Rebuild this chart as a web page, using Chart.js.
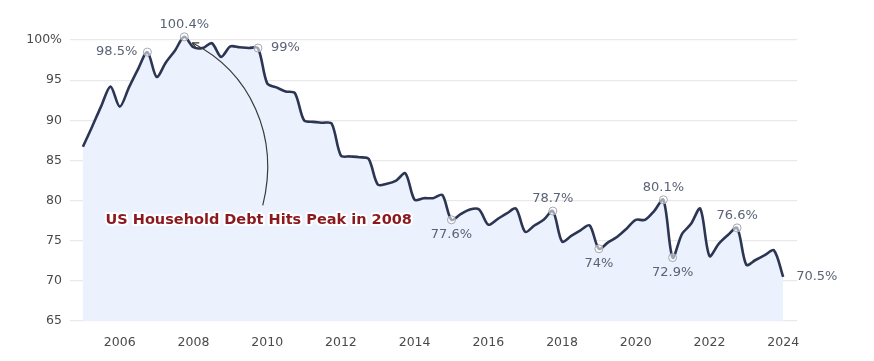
<!DOCTYPE html>
<html><head><meta charset="utf-8">
<script src="https://cdn.jsdelivr.net/npm/chart.js@4.4.1/dist/chart.umd.min.js"></script>
<style>html,body{margin:0;padding:0;background:#fff}#wrap{width:874px;height:361px;position:relative}</style>
</head><body><div id="wrap"><canvas id="c"></canvas></div>
<script>
// ---- data ----
const years = [
 2005,2005.25,2005.5,2005.75, 2006,2006.25,2006.5,2006.75, 2007,2007.25,2007.5,2007.75,
 2008,2008.25,2008.5,2008.75, 2009,2009.25,2009.5,2009.75, 2010,2010.25,2010.5,2010.75,
 2011,2011.25,2011.5,2011.75, 2012,2012.25,2012.5,2012.75, 2013,2013.25,2013.5,2013.75,
 2014,2014.25,2014.5,2014.75, 2015,2015.25,2015.5,2015.75, 2016,2016.25,2016.5,2016.75,
 2017,2017.25,2017.5,2017.75, 2018,2018.25,2018.5,2018.75, 2019,2019.25,2019.5,2019.75,
 2020,2020.25,2020.5,2020.75, 2021,2021.25,2021.5,2021.75, 2022,2022.25,2022.5,2022.75,
 2023,2023.25,2023.5,2023.75, 2024];
const debtPct = [
 86.7,89.2,91.8,94.2, 91.7,94.1,96.4,98.5, 95.4,97.2,98.7,100.4,
 99.1,99.0,99.6,97.9, 99.2,99.1,99.0,99.0, 94.6,94.1,93.6,93.4,
 90.0,89.8,89.7,89.6, 85.6,85.5,85.4,85.2, 82.0,82.1,82.5,83.4,
 80.1,80.3,80.3,80.7, 77.6,78.3,78.9,78.9, 77.0,77.7,78.4,79.0,
 76.1,76.9,77.6,78.7, 74.9,75.6,76.3,76.9, 74.0,74.8,75.5,76.5,
 77.6,77.6,78.7,80.1, 72.9,75.8,77.1,79.0, 73.1,74.6,75.7,76.6,
 72.0,72.6,73.2,73.8, 70.5];
const yTickValues = [65,70,75,80,85,90,95,100];
const xTickValues = [2006,2008,2010,2012,2014,2016,2018,2020,2022,2024];
const calloutYears = [2006.75,2007.75,2009.75,2015,2017.75,2019,2020.75,2021,2022.75,2024];
const calloutTexts = ['98.5%','100.4%','99%','77.6%','78.7%','74%','80.1%','72.9%','76.6%','70.5%'];
const calloutPlace = ['left','above','right','below','above','below','above','below','above','right'];
const calloutMarker = [true,true,true,true,true,true,true,true,true,false];
const noteText = 'US Household Debt Hits Peak in 2008';
const notePeakYear = 2007.75;

const FONT = '"DejaVu Sans", Verdana, sans-serif';

const calloutPlugin = {
  id: 'callouts',
  afterDatasetsDraw(chart) {
    const ctx = chart.ctx, meta = chart.getDatasetMeta(0);
    const xs = chart.scales.x, ys = chart.scales.y;
    ctx.save();
    // annotation arrow
    const pk = meta.data[years.indexOf(notePeakYear)];
    const p0 = {x: pk.x + 8, y: pk.y + 6};
    const p1 = {x: xs.getPixelForValue(2009.53), y: ys.getPixelForValue(96.0)};
    const p2 = {x: xs.getPixelForValue(2010.35), y: ys.getPixelForValue(88.1)};
    const p3 = {x: xs.getPixelForValue(2009.88), y: ys.getPixelForValue(79.4)};
    ctx.strokeStyle = '#3a3a3a'; ctx.lineWidth = 1.2;
    ctx.beginPath(); ctx.moveTo(p0.x, p0.y);
    ctx.bezierCurveTo(p1.x, p1.y, p2.x, p2.y, p3.x, p3.y); ctx.stroke();
    const ang = Math.atan2(p0.y - p1.y, p0.x - p1.x);
    ctx.beginPath();
    for (const s of [-0.45, 0.45]) {
      ctx.moveTo(p0.x, p0.y);
      ctx.lineTo(p0.x - 7 * Math.cos(ang + s), p0.y - 7 * Math.sin(ang + s));
    }
    ctx.stroke();
    // annotation text
    const tx = xs.getPixelForValue(2009.77), ty = ys.getPixelForValue(77.6);
    ctx.font = 'bold 14.5px ' + FONT;
    ctx.textAlign = 'center'; ctx.textBaseline = 'middle';
    ctx.lineJoin = 'round';
    ctx.strokeStyle = '#ffffff'; ctx.lineWidth = 4;
    ctx.strokeText(noteText, tx, ty);
    ctx.fillStyle = '#8a1a1f';
    ctx.fillText(noteText, tx, ty);
    // callouts
    ctx.font = '13px ' + FONT;
    calloutYears.forEach((yr, k) => {
      const p = meta.data[years.indexOf(yr)];
      if (calloutMarker[k]) {
        ctx.beginPath(); ctx.arc(p.x, p.y, 4, 0, Math.PI * 2);
        ctx.fillStyle = 'rgba(255,255,255,0.55)'; ctx.fill();
        ctx.strokeStyle = '#a3a7b0'; ctx.lineWidth = 1; ctx.stroke();
      }
      let x = p.x, y = p.y;
      const pl = calloutPlace[k];
      if (pl === 'left') { ctx.textAlign = 'right'; x -= 10; }
      else if (pl === 'right') { ctx.textAlign = 'left'; x += 13; }
      else if (pl === 'above') { ctx.textAlign = 'center'; y -= 12; }
      else { ctx.textAlign = 'center'; y += 15; }
      ctx.textBaseline = 'middle';
      ctx.fillStyle = '#5a6276';
      ctx.fillText(calloutTexts[k], x, y);
    });
    ctx.restore();
  }
};

new Chart(document.getElementById('c'), {
  type: 'line',
  data: {
    datasets: [{
      data: years.map((yr, i) => ({x: yr, y: debtPct[i]})),
      borderColor: '#2c3653',
      borderWidth: 2.6,
      backgroundColor: '#ebf2fd',
      fill: 'start',
      tension: 0.3,
      pointRadius: 0,
      pointHoverRadius: 0
    }]
  },
  options: {
    responsive: true,
    maintainAspectRatio: false,
    animation: false,
    layout: {padding: {left: 0, right: 77, top: 32, bottom: 0}},
    plugins: {legend: {display: false}, tooltip: {enabled: false}},
    scales: {
      x: {
        type: 'linear', min: 2004.65, max: 2024.375,
        grid: {display: false},
        border: {display: false},
        afterBuildTicks: s => { s.ticks = xTickValues.map(v => ({value: v})); },
        afterFit: s => { s.height = 40; },
        ticks: {padding: 6, color: '#4a4a4a', font: {family: FONT, size: 12.5},
                maxRotation: 0, autoSkip: false, callback: v => String(v)}
      },
      y: {
        min: 65, max: 101,
        grid: {color: '#e9e9ec', lineWidth: 1.2, drawTicks: false},
        border: {display: false},
        afterBuildTicks: s => { s.ticks = yTickValues.map(v => ({value: v})); },
        afterFit: s => { s.width = 70; },
        ticks: {padding: 8, color: '#4a4a4a', font: {family: FONT, size: 12.5},
                callback: v => v === 100 ? '100%' : String(v)}
      }
    }
  },
  plugins: [calloutPlugin]
});
</script></body></html>
